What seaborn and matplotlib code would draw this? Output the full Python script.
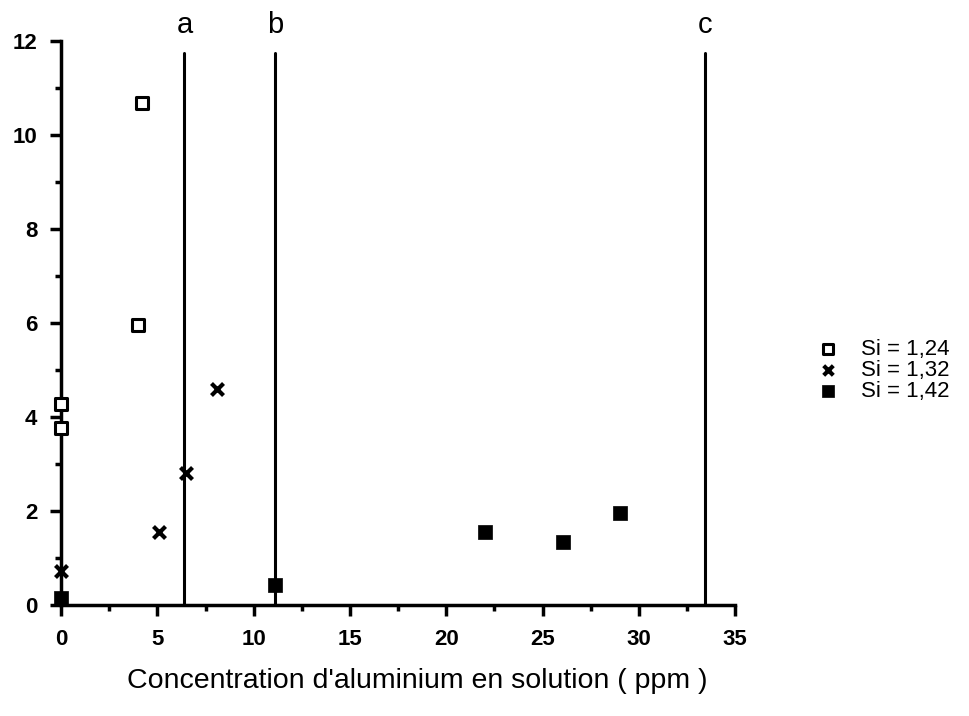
import matplotlib
matplotlib.use('Agg')
from matplotlib import pyplot as plt
from matplotlib.ticker import MultipleLocator
import pandas as pd
import seaborn as sns

# Si = 1,24 (open squares)
x_124 = [0, 0, 4.0, 4.2]
y_124 = [4.27, 3.77, 5.95, 10.68]
# Si = 1,32 (crosses)
x_132 = [0, 5.1, 6.5, 8.1]
y_132 = [0.72, 1.55, 2.8, 4.6]
# Si = 1,42 (filled squares)
x_142 = [0, 11.1, 22.0, 26.05, 29.0]
y_142 = [0.14, 0.43, 1.55, 1.33, 1.95]

series = ['Si = 1,24', 'Si = 1,32', 'Si = 1,42']
limits = [6.4, 11.1, 33.45]
limit_names = ['a', 'b', 'c']

df = pd.concat([
    pd.DataFrame({'x': x_124, 'y': y_124, 'serie': series[0]}),
    pd.DataFrame({'x': x_132, 'y': y_132, 'serie': series[1]}),
    pd.DataFrame({'x': x_142, 'y': y_142, 'serie': series[2]}),
])

sns.set_style('ticks', {'axes.edgecolor': 'black', 'text.color': 'black',
                        'xtick.color': 'black', 'ytick.color': 'black',
                        'axes.labelcolor': 'black'})
plt.rcParams['font.family'] = ['Liberation Sans', 'DejaVu Sans']

f = plt.figure(figsize=(9.7, 7.16), dpi=100)
ax = f.add_axes([0.063, 0.155, 0.695, 0.788])

styles = {
    series[0]: dict(marker='s', s=75, facecolor='white', edgecolor='black', linewidth=2.2),
    series[1]: dict(marker='x', s=75, color='black', linewidth=3),
    series[2]: dict(marker='s', s=110, color='black', edgecolor='black', linewidth=0.5),
}
for name in series:
    sub = df[df.serie == name]
    sns.scatterplot(data=sub, x='x', y='y', ax=ax, label=name,
                    clip_on=False, zorder=5, **styles[name])

for xv, lab in zip(limits, limit_names):
    ax.plot([xv, xv], [0, 11.75], color='black', lw=2.2, zorder=3)
    ax.text(xv, 12.03, lab, ha='center', va='bottom', fontsize=21)

ax.set_xlim(0, 35)
ax.set_ylim(0, 12)
ax.xaxis.set_major_locator(MultipleLocator(5))
ax.xaxis.set_minor_locator(MultipleLocator(2.5))
ax.yaxis.set_major_locator(MultipleLocator(2))
ax.yaxis.set_minor_locator(MultipleLocator(1))
ax.tick_params(which='major', length=8, width=2.5, labelsize=16, direction='out', pad=9)
ax.tick_params(which='minor', length=4, width=2.5, direction='out')
for lab in ax.get_xticklabels() + ax.get_yticklabels():
    lab.set_fontweight('bold')
sns.despine(ax=ax)
for sp in ['left', 'bottom']:
    ax.spines[sp].set_linewidth(2.5)

ax.set_xlabel("Concentration d'aluminium en solution ( ppm )", fontsize=20.5)
ax.xaxis.set_label_coords(0.528, -0.112)
ax.set_ylabel('')

ax.legend(loc='center left', bbox_to_anchor=(1.075, 0.416), frameon=False,
          fontsize=16, handletextpad=0.5, labelspacing=0.0, markerscale=0.8)

f.savefig('out.png', dpi=100)
